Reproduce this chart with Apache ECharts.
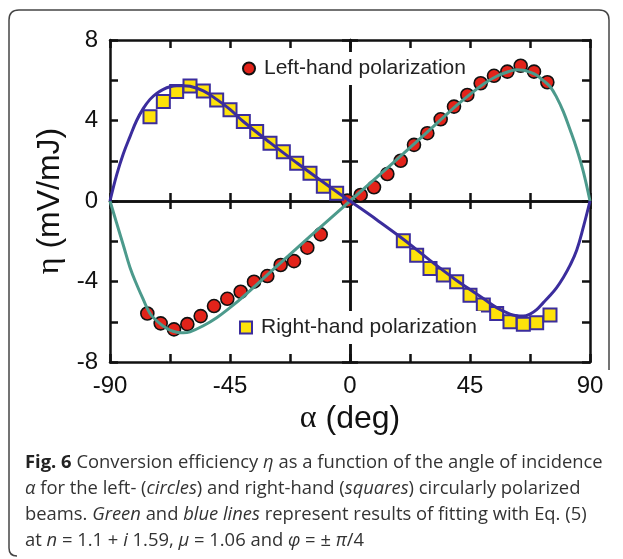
<!DOCTYPE html>
<html>
<head>
<meta charset="utf-8">
<script src="https://cdn.jsdelivr.net/npm/echarts@6/dist/echarts.min.js"></script>
<style>
html,body{margin:0;padding:0;background:#fff;}
#c{width:623px;height:559px;}
</style>
</head>
<body>
<div id="c"></div>
<script>
// ---- data ----
var circleX = [-76,-71,-66,-61,-56,-51,-46,-41,-36,-31,-26,-21,-16,-11,-1,4,9,14,19,24,29,34,39,44,49,54,59,64,69,74];
var circleY = [-5.59,-6.08,-6.38,-6.12,-5.72,-5.22,-4.86,-4.51,-4.01,-3.73,-3.18,-2.99,-2.32,-1.66,0.02,0.3,0.68,1.34,2.0,2.79,3.37,4.06,4.69,5.27,5.85,6.22,6.43,6.72,6.43,5.9];
var squareX = [-75,-70,-65,-60,-55,-50,-45,-40,-35,-30,-25,-20,-15,-10,-5,20,25,30,35,40,45,50,55,60,65,70,75];
var squareY = [4.19,4.94,5.44,5.72,5.47,5.02,4.53,3.95,3.45,2.87,2.45,1.87,1.38,0.73,0.38,-1.97,-2.69,-3.35,-3.68,-4.01,-4.68,-5.17,-5.59,-6.0,-6.12,-6.05,-5.67];
var greenX = [-90,-87.5,-85,-82.5,-80,-77.5,-75,-72.5,-70,-67.5,-65,-62.5,-60,-55,-50,-45,-40,-30,-20,-10,0,10,20,30,40,45,50,55,60,62.5,65,67.5,70,72.5,75,77.5,80,82.5,85,87.5,90];
var greenY = [0,-1.1,-2.2,-3.3,-4.15,-4.9,-5.59,-5.95,-6.22,-6.42,-6.52,-6.55,-6.5,-6.2,-5.8,-5.3,-4.75,-3.55,-2.35,-1.17,0,1.17,2.35,3.55,4.75,5.3,5.8,6.2,6.45,6.52,6.5,6.4,6.25,5.98,5.69,5.15,4.44,3.55,2.6,1.46,0];
var blueX = [-90,-87.5,-85,-82.5,-80,-77.5,-75,-72.5,-70,-67.5,-65,-62.5,-60,-55,-50,-45,-40,-30,-20,-10,0,10,20,30,40,45,50,55,60,62.5,65,67.5,70,72.5,75,77.5,80,82.5,85,87.5,90];
var blueY = [0,1.3,2.35,3.2,4.0,4.6,5.05,5.35,5.55,5.68,5.73,5.73,5.7,5.47,5.05,4.55,3.95,2.9,1.9,0.93,0,-0.93,-1.9,-2.95,-3.95,-4.4,-4.85,-5.3,-5.62,-5.7,-5.72,-5.62,-5.4,-5.05,-4.7,-4.3,-3.8,-3.2,-2.45,-1.3,0];
var xTickLabels = [-90,-45,0,45,90];
var yTickLabels = [-8,-4,0,4,8];
var legendNames = ['Left-hand polarization','Right-hand polarization'];

function pairs(xs, ys){ return xs.map(function(x,i){ return [x, ys[i]]; }); }

var FONT = 'Liberation Sans';
var GREEN = '#4c9a8c', BLUE = '#3b2d9d', RED = '#e2231a', YELLOW = '#fde20a';
var gridRect = {left:110, top:40, width:480, height:322};

function xAx(idx, opts){
  var base = {
    type:'value', gridIndex: idx, min:-90, max:90, interval:22.5,
    splitLine:{show:false},
    axisLine:{show:true, onZero:false, lineStyle:{color:'#111', width:2.5}},
    axisTick:{show:true, inside:true, length:8, lineStyle:{color:'#111', width:2.5}},
    axisLabel:{show:false}
  };
  return Object.assign(base, opts||{});
}
function yAx(idx, opts){
  var base = {
    type:'value', gridIndex: idx, min:-8, max:8, interval:2,
    splitLine:{show:false},
    axisLine:{show:true, onZero:false, lineStyle:{color:'#111', width:2.5}},
    axisTick:{show:true, inside:true, length:8, lineStyle:{color:'#111', width:2.5}},
    axisLabel:{show:false}
  };
  return Object.assign(base, opts||{});
}

var chart = echarts.init(document.getElementById('c'), null, {renderer:'canvas'});
var frameStyle = {fill:null, stroke:'#444', lineWidth:1.5};
var capFont = 18.4;
var option = {
  animation:false,
  backgroundColor:'#fff',
  grid:[gridRect, gridRect, gridRect, gridRect].map(function(g){ return Object.assign({}, g); }),
  xAxis:[
    xAx(0, {position:'bottom',
      axisLabel:{show:true, margin:12, fontSize:24, fontFamily:FONT, color:'#111',
        formatter:function(v){ return xTickLabels.indexOf(v) >= 0 ? String(v) : ''; }},
      name:'{g|\u03b1} (deg)', nameLocation:'middle', nameGap:34,
      nameTextStyle:{fontSize:32, fontFamily:FONT, color:'#111',
        rich:{g:{fontSize:32, fontFamily:'Liberation Serif', color:'#111'}}}
    }),
    xAx(1, {position:'top'}),
    xAx(2, {position:'bottom', axisLine:{show:true, onZero:true, lineStyle:{color:'#111', width:2.5}}}),
    xAx(3, {position:'bottom', axisLine:{show:true, onZero:true, lineStyle:{color:'#111', width:2.5}},
      axisTick:{show:true, inside:false, length:8, lineStyle:{color:'#111', width:2.5}}})
  ],
  yAxis:[
    yAx(0, {position:'left',
      axisLabel:{show:true, margin:12, fontSize:24, fontFamily:FONT, color:'#111',
        formatter:function(v){ return yTickLabels.indexOf(v) >= 0 ? String(v) : ''; }},
      name:'{g|\u03b7} (mV/mJ)', nameLocation:'middle', nameGap:30,
      nameTextStyle:{fontSize:32, fontFamily:FONT, color:'#111',
        rich:{g:{fontSize:32, fontFamily:'Liberation Serif', color:'#111'}}}
    }),
    yAx(1, {position:'right'}),
    yAx(2, {position:'left', axisLine:{show:true, onZero:true, lineStyle:{color:'#111', width:2.5}}}),
    yAx(3, {position:'left', axisLine:{show:true, onZero:true, lineStyle:{color:'#111', width:2.5}},
      axisTick:{show:true, inside:false, length:8, lineStyle:{color:'#111', width:2.5}}})
  ],
  legend:[
    {left:238, top:52, padding:[6,4,6,4], backgroundColor:'#fff', z:10,
      itemWidth:12, itemHeight:12, selectedMode:false,
      data:[{name:legendNames[0], icon:'circle'}],
      textStyle:{fontSize:21, fontFamily:FONT, color:'#222', padding:[0,0,0,4]}},
    {left:235, top:311, padding:[6,4,6,4], backgroundColor:'#fff', z:10,
      itemWidth:12, itemHeight:12, selectedMode:false,
      data:[{name:legendNames[1], icon:'rect'}],
      textStyle:{fontSize:21, fontFamily:FONT, color:'#222', padding:[0,0,0,4]}}
  ],
  series:[
    {name:legendNames[0], type:'scatter', xAxisIndex:0, yAxisIndex:0, symbol:'circle', symbolSize:13,
      itemStyle:{color:RED, borderColor:'#111', borderWidth:1.6, opacity:1},
      data:pairs(circleX, circleY), z:3},
    {name:legendNames[1], type:'scatter', xAxisIndex:0, yAxisIndex:0, symbol:'rect', symbolSize:13,
      itemStyle:{color:YELLOW, borderColor:BLUE, borderWidth:2, opacity:1},
      data:pairs(squareX, squareY), z:3},
    {name:'green fit', type:'line', xAxisIndex:0, yAxisIndex:0, smooth:0.4, showSymbol:false,
      lineStyle:{color:GREEN, width:3}, itemStyle:{color:GREEN},
      data:pairs(greenX, greenY), z:4},
    {name:'blue fit', type:'line', xAxisIndex:0, yAxisIndex:0, smooth:0.4, showSymbol:false,
      lineStyle:{color:BLUE, width:3}, itemStyle:{color:BLUE},
      data:pairs(blueX, blueY), z:4}
  ],
  graphic:[
    {type:'polyline', silent:true, shape:{points:[[9,548],[9,20]]}, style:frameStyle},
    {type:'bezierCurve', silent:true, shape:{x1:9,y1:20,x2:19,y2:10,cpx1:9,cpy1:10}, style:frameStyle},
    {type:'polyline', silent:true, shape:{points:[[19,10],[599,10]]}, style:frameStyle},
    {type:'bezierCurve', silent:true, shape:{x1:599,y1:10,x2:609,y2:20,cpx1:609,cpy1:10}, style:frameStyle},
    {type:'polyline', silent:true, shape:{points:[[609,20],[609,370]]}, style:frameStyle},
    {type:'bezierCurve', silent:true, shape:{x1:9,y1:548,x2:17,y2:556,cpx1:9,cpy1:556}, style:frameStyle},
    {type:'text', left:25, top:450, silent:true,
      style:{
        text:'{b|Fig. 6} Conversion efficiency {i|\u03b7} as a function of the angle of incidence\n' +
             '{i|\u03b1} for the left- ({i|circles}) and right-hand ({i|squares}) circularly polarized\n' +
             'beams. {i|Green} and {i|blue lines} represent results of fitting with Eq. (5)\n' +
             'at {i|n} = 1.1 + {i|i} 1.59, {i|\u03bc} = 1.06 and {i|\u03c6} = \u00b1 {i|\u03c0}/4',
        fontSize:capFont, fontFamily:'Open Sans', fill:'#333', lineHeight:26,
        rich:{
          b:{fontWeight:'bold', fontSize:capFont, fontFamily:'Open Sans', fill:'#222', lineHeight:26},
          i:{fontStyle:'italic', fontSize:capFont, fontFamily:'Open Sans', fill:'#333', lineHeight:26}
        }
      }}
  ]
};
chart.setOption(option);
</script>
</body>
</html>
